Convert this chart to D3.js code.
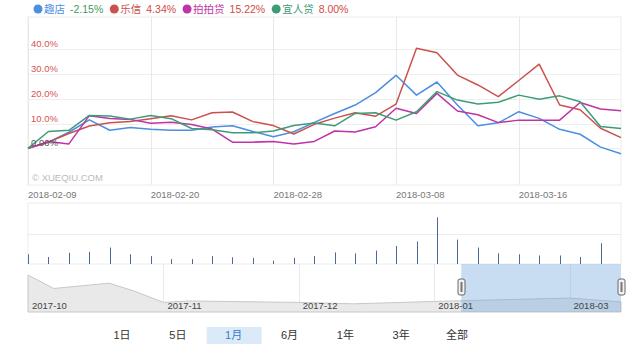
<!DOCTYPE html>
<html lang="zh">
<head>
<meta charset="UTF-8">
<title>趣店 乐信 拍拍贷 宜人贷</title>
<script src="https://cdn.jsdelivr.net/npm/d3@7/dist/d3.min.js"></script>
<style>
  body { margin: 0; background: #fff; }
  svg { display: block; font-family: "Liberation Sans", Arial, "Noto Sans CJK SC", sans-serif; }
</style>
</head>
<body>
<div id="chart"></div>
<script>
// ---- data ----
const dates = ["2018-02-09","2018-02-12","2018-02-13","2018-02-14","2018-02-15","2018-02-16",
  "2018-02-20","2018-02-21","2018-02-22","2018-02-23","2018-02-26","2018-02-27","2018-02-28",
  "2018-03-01","2018-03-02","2018-03-05","2018-03-06","2018-03-07","2018-03-08","2018-03-09",
  "2018-03-12","2018-03-13","2018-03-14","2018-03-15","2018-03-16","2018-03-19","2018-03-20",
  "2018-03-21","2018-03-22","2018-03-23"];
const dateTicks = ["2018-02-09","2018-02-20","2018-02-28","2018-03-08","2018-03-16"];

const names = ["趣店", "乐信", "拍拍贷", "宜人贷"];
const lastChange = [-2.15, 4.34, 15.22, 8.00];
const colors = ["#4a8fe0", "#c9524e", "#bf33a6", "#3d9c76"];

const qudian = [0, 2.5, 6.5, 11.5, 7.3, 8.4, 7.7, 7.3, 7.3, 8.6, 9.1, 6.8, 4.7, 6.7, 10.5,
  14.1, 17.5, 22.5, 29.5, 21.5, 26.8, 17.5, 9.1, 10.3, 14.8, 12.1, 7.7, 5.7, 0.5, -2.15];
const lexin = [0, 2.5, 6, 9, 10.3, 10.8, 12, 13.2, 11.5, 14.4, 14.7, 10.8, 9.2, 5.8, 9.7,
  12.2, 14.4, 13.0, 17.9, 40.4, 38.6, 29.6, 25.6, 20.9, 27.4, 34.0, 17.5, 15.6, 8.1, 4.34];
const paipaidai = [0, 2.8, 1.8, 13.2, 12.1, 11.7, 10.1, 10.5, 9.6, 7.8, 2.5, 2.5, 2.8, 1.8, 2.8,
  7.0, 6.6, 8.7, 16.2, 14.1, 22.2, 15.1, 13.6, 10.4, 11.4, 11.4, 11.4, 18.5, 15.9, 15.22];
const yirendai = [0, 6.8, 7.3, 13.3, 13.1, 11.8, 13.3, 12.0, 8.0, 7.5, 6.3, 6.3, 7.0, 9.2, 10.2,
  9.1, 14.1, 14.4, 11.4, 14.8, 22.9, 19.5, 17.9, 18.6, 21.5, 19.8, 21.2, 18.8, 8.8, 8.0];
const seriesValues = [qudian, lexin, paipaidai, yirendai];

const yTicks = [0, 10, 20, 30, 40];

// volume (arbitrary units), one bar per trading day, last day has none
const volume = [16, 11.5, 18.5, 20, 27, 16, 13, 8, 8, 13, 11, 10, 5.5, 10, 13,
  19, 17.5, 22, 29.5, 37, 76.5, 40, 27, 17.5, 16, 14, 14, 11.5, 34];

// navigator overview (x in month steps from 2017-10)
const navX = [0, 0.19, 0.6, 0.79, 1.0, 1.19, 2.0, 2.4, 3.0, 4.0, 4.38];
const navY = [77, 49, 60, 43, 20, 23, 20, 17, 22, 29, 21];
const navTickLabels = ["2017-10", "2017-11", "2017-12", "2018-01", "2018-03"];
const navSelection = [3.2, 4.38];

const ranges = ["1日", "5日", "1月", "6月", "1年", "3年", "全部"];
const activeRange = "1月";

// ---- setup ----
const width = 640, height = 352;
const svg = d3.select("#chart").append("svg").attr("width", width).attr("height", height);

const left = 28, right = 621;
const main = { top: 17, bottom: 185 };
const vol = { top: 203, bottom: 264 };
const nav = { top: 264, bottom: 312 };

const x = d3.scalePoint().domain(dates).range([left, right]);
const y = d3.scaleLinear().domain([-14.8, 53.05]).range([main.bottom, main.top]);

// ---- main frame & grid ----
const gMain = svg.append("g");
gMain.append("rect")
  .attr("x", left).attr("y", main.top)
  .attr("width", right - left).attr("height", main.bottom - main.top)
  .attr("fill", "none").attr("stroke", "#ececec");

gMain.selectAll(".hgrid").data(yTicks).join("line")
  .attr("x1", left).attr("x2", right)
  .attr("y1", d => Math.round(y(d)) + 0.5).attr("y2", d => Math.round(y(d)) + 0.5)
  .attr("stroke", "#efefef");

gMain.selectAll(".vgrid").data(dateTicks).join("line")
  .attr("x1", d => Math.round(x(d)) + 0.5).attr("x2", d => Math.round(x(d)) + 0.5)
  .attr("y1", main.top).attr("y2", main.bottom)
  .attr("stroke", "#e8e8e8");

gMain.append("text")
  .attr("x", left + 4).attr("y", main.bottom - 4)
  .attr("font-size", 9.5).attr("fill", "#bbb")
  .text("© XUEQIU.COM");

// lines
const line = d3.line()
  .x((d, i) => x(dates[i]))
  .y(d => y(d));

gMain.selectAll(".series").data(seriesValues).join("path")
  .attr("fill", "none")
  .attr("stroke", (d, i) => colors[i])
  .attr("stroke-width", 1.5)
  .attr("stroke-linejoin", "round")
  .attr("d", line);

// y labels drawn over the lines
gMain.selectAll(".ylab").data(yTicks).join("text")
  .attr("x", left + 3).attr("y", d => y(d) - 2)
  .attr("font-size", 9.5)
  .attr("fill", d => d === 0 ? "#555" : "#d9534f")
  .text(d => d === 0 ? "0.00%" : d.toFixed(1) + "%");

// date labels
svg.selectAll(".xlab").data(dateTicks).join("text")
  .attr("x", d => x(d)).attr("y", 198)
  .attr("font-size", 9.5).attr("fill", "#777")
  .text(d => d);

// ---- volume ----
const yv = d3.scaleLinear().domain([0, 100]).range([vol.bottom, vol.top]);
const gVol = svg.append("g");
gVol.append("rect")
  .attr("x", left).attr("y", vol.top)
  .attr("width", right - left).attr("height", vol.bottom - vol.top)
  .attr("fill", "none").attr("stroke", "#ececec");
gVol.append("line")
  .attr("x1", left).attr("x2", right)
  .attr("y1", Math.round(yv(50)) + 0.5).attr("y2", Math.round(yv(50)) + 0.5)
  .attr("stroke", "#ececec");
gVol.selectAll(".bar").data(volume).join("rect")
  .attr("x", (d, i) => Math.round(x(dates[i])))
  .attr("width", 1)
  .attr("y", d => yv(d))
  .attr("height", d => vol.bottom - yv(d))
  .attr("fill", "#4c6a98");

// ---- navigator ----
const xn = d3.scaleLinear().domain([0, 4.38]).range([left, right]);
const yn = d3.scaleLinear().domain([0, 100]).range([nav.bottom, nav.top]);
const gNav = svg.append("g");

gNav.selectAll(".ngrid").data(d3.range(1, navTickLabels.length)).join("line")
  .attr("x1", d => Math.round(xn(d)) + 0.5).attr("x2", d => Math.round(xn(d)) + 0.5)
  .attr("y1", nav.top).attr("y2", nav.bottom)
  .attr("stroke", "#eaeaea");

const navData = navX.map((v, i) => [v, navY[i]]);
gNav.append("path")
  .datum(navData)
  .attr("fill", "#e9e9e9")
  .attr("stroke", "#c8c8c8")
  .attr("d", d3.area().x(d => xn(d[0])).y0(nav.bottom).y1(d => yn(d[1])));

gNav.append("rect")
  .attr("x", xn(navSelection[0])).attr("y", nav.top)
  .attr("width", xn(navSelection[1]) - xn(navSelection[0]))
  .attr("height", nav.bottom - nav.top)
  .attr("fill", "rgba(110,165,220,0.38)");

gNav.selectAll(".nlab").data(navTickLabels).join("text")
  .attr("x", (d, i) => xn(i) + 4).attr("y", nav.bottom - 3)
  .attr("font-size", 9.5).attr("fill", "#444")
  .text(d => d);

// handles
const handles = gNav.selectAll(".handle").data(navSelection).join("g")
  .attr("transform", d => `translate(${Math.round(xn(d)) + 0.5}, ${(nav.top + nav.bottom) / 2 - 1})`);
handles.append("rect")
  .attr("x", -3.5).attr("y", -8).attr("width", 7).attr("height", 16).attr("rx", 2)
  .attr("fill", "#f2f2f2").attr("stroke", "#666");
handles.append("rect")
  .attr("x", -1).attr("y", -5).attr("width", 2).attr("height", 10)
  .attr("fill", "#777");

// ---- legend ----
const gLeg = svg.append("g");
let lx = 34;
names.forEach((n, i) => {
  gLeg.append("circle").attr("cx", lx + 4).attr("cy", 9).attr("r", 4.5).attr("fill", colors[i]);
  const t = gLeg.append("text").attr("x", lx + 10).attr("y", 13)
    .attr("font-size", 10.5).attr("fill", colors[i]).text(n);
  lx += 10 + t.node().getComputedTextLength() + 5;
  const v = lastChange[i];
  const tv = gLeg.append("text").attr("x", lx).attr("y", 13)
    .attr("font-size", 10.5)
    .attr("fill", v < 0 ? "#3f9a5c" : "#d14a44")
    .text(v.toFixed(2) + "%");
  lx += tv.node().getComputedTextLength() + 7;
});

// ---- range buttons ----
const xb = d3.scalePoint().domain(ranges).range([122, 457]);
const gBtn = svg.append("g");
gBtn.append("rect")
  .attr("x", xb(activeRange) - 27).attr("y", 327)
  .attr("width", 55).attr("height", 17)
  .attr("fill", "#dbeaf8");
gBtn.selectAll(".btn").data(ranges).join("text")
  .attr("x", d => xb(d)).attr("y", 339)
  .attr("text-anchor", "middle")
  .attr("font-size", 11)
  .attr("fill", d => d === activeRange ? "#3a7cc8" : "#333")
  .text(d => d);
</script>
</body>
</html>
